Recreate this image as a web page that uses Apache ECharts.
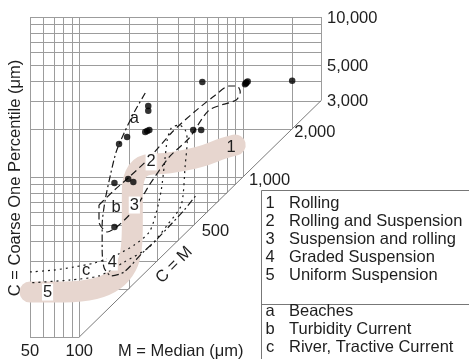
<!DOCTYPE html>
<html><head><meta charset="utf-8">
<script src="https://cdn.jsdelivr.net/npm/echarts@6/dist/echarts.min.js"></script>
<style>html,body{margin:0;padding:0;background:#fff}#c{width:469px;height:359px}</style>
</head><body><div id="c"></div>
<script>
// ---- data ----
const mGridValues = [50,60,70,80,90,100,200,300,400,500,600,700,800,900,1000,2000,3000];
const cGridValues = [100,200,300,400,500,600,700,800,900,1000,2000,3000,4000,5000,6000,7000,8000,9000,10000];
const bottomTickValues = [50,100];
const bottomTickLabels = ['50','100'];
const rightTickValues = [10000,5000,3000];
const rightTickLabels = ['10,000','5,000','3,000'];
const diagTickValues = [2000,1000,500];
const diagTickLabels = ['2,000','1,000','500'];

// sigmoid CM pattern band (M, C)
const bandPath = [[50,191],[81,191],[124,200],[164,227],[194,278],[208,360],[211,501],[211,772],[220,1029],[257,1189],[355,1224],[541,1334],[769,1518],[897,1585]];
// envelope a (beaches) dash-dot
const envelopeA = [[253,3350],[217,2548],[188,1884],[168,1433],[155,1029],[144,718],[138,501],[138,350],[142,270],[157,241],[188,255],[243,335],[295,404],[370,516],[438,622],[519,772]];
// envelope b (turbidity current) dashed
const envelopeB = [[132,668],[164,829],[202,1000],[268,1315],[370,1911],[504,2548],[668,3208],[825,3705],[923,3705],[963,3398],[910,3028],[623,2623],[470,1753],[355,1334],[268,891],[223,649],[175,501],[148,453],[132,523],[132,668]];
// envelope c (river, tractive current) dotted
const envelopeC = [[50,255],[70,262],[93,274],[124,290],[164,321],[217,376],[268,453],[295,596],[317,829],[331,1189],[345,1703],[365,2024],[408,2113],[444,1967],[457,1703],[444,1189],[420,668],[345,501],[268,365],[188,294],[132,241],[87,227],[50,218]];
// samples (M, C)
const samplePoints = [[565,3930],[264,2780],[264,2590],[253,1910],[268,1967],[260,1940],[196,1778],[175,1608],[497,1967],[556,1967],[1030,3800],[1050,3900],[1070,3950],[1045,3850],[2000,4000],[164,917],[199,972],[214,930],[164,487]];
// in-plot labels
const plotLabelTexts = ['a','b','c','1','2','3','4','5'];
const plotLabelPos = [[217,2338],[168,649],[110,262],[848,1540],[275,1242],[217,668],[159,294],[64,191]];
// legend
const zoneIds = ['1','2','3','4','5'];
const zoneNames = ['Rolling','Rolling and Suspension','Suspension and rolling','Graded Suspension','Uniform Suspension'];
const envIds = ['a','b','c'];
const envNames = ['Beaches','Turbidity Current','River, Tractive Current'];

const M_MIN = 50, M_MAX = 3000, C_MIN = 100, C_MAX = 10000;
const FONT = '16.5px "Liberation Sans", Arial, sans-serif';
const TXT = '#1e1e1e';

// grid segments: clipped to region above C = M
const segs = [];
mGridValues.forEach(m => segs.push([m, Math.max(C_MIN, m), m, C_MAX]));
cGridValues.forEach(c => segs.push([M_MIN, c, Math.min(M_MAX, Math.max(c, 100)), c]));
const diagSeg = [[100,100,3000,3000]];

function segRender(color, width){
  return function(params, api){
    const p1 = api.coord([api.value(0), api.value(1)]);
    const p2 = api.coord([api.value(2), api.value(3)]);
    const r = v => Math.round(v) + 0.5;
    const vert = Math.abs(p1[0]-p2[0]) < 0.5, hor = Math.abs(p1[1]-p2[1]) < 0.5;
    return {type:'line', shape:{
      x1: vert ? r(p1[0]) : p1[0], y1: hor ? r(p1[1]) : p1[1],
      x2: vert ? r(p2[0]) : p2[0], y2: hor ? r(p2[1]) : p2[1]},
      style:{stroke:color, lineWidth:width}};
  };
}
function textSeries(values, texts, opt){
  return {type:'custom', coordinateSystem:'cartesian2d', silent:true, clip:false, z: opt.z || 10,
    data: values,
    renderItem(params, api){
      const i = params.dataIndex;
      const p = api.coord([api.value(0), api.value(1)]);
      const dx = Array.isArray(opt.dx) ? opt.dx[i] : (opt.dx||0);
      const dy = Array.isArray(opt.dy) ? opt.dy[i] : (opt.dy||0);
      const st = {text: texts[i], font: FONT, fill: TXT, align: opt.align||'center', verticalAlign:'middle'};
      if (opt.bg && opt.bg[i]) { st.backgroundColor = '#fff'; st.padding = [0,1]; }
      return {type:'text', x: p[0]+dx, y: p[1]+dy, rotation: opt.rotation||0, style: st};
    }};
}
function envSeries(data, dash){
  return {type:'line', data, smooth:0.25, symbol:'none', silent:true, z:4,
    lineStyle:{color:'#1a1a1a', width:1.2, type:dash}};
}

const chart = echarts.init(document.getElementById('c'), null, {renderer:'canvas'});
const graphic = [];
const LX = 261.5, LY = 190.5;
graphic.push({type:'rect', shape:{x:LX, y:LY, width:230, height:200}, style:{fill:'#fff', stroke:'#777', lineWidth:1}, z:1});
graphic.push({type:'line', shape:{x1:LX, y1:304.5, x2:470, y2:304.5}, style:{stroke:'#777', lineWidth:1}, z:2});
zoneIds.forEach((id,i)=>{
  graphic.push({type:'text', x:270, y:203+i*18, style:{text:id, font:FONT, fill:TXT, align:'center', verticalAlign:'middle'}, z:3});
  graphic.push({type:'text', x:289, y:203+i*18, style:{text:zoneNames[i], font:FONT, fill:TXT, align:'left', verticalAlign:'middle'}, z:3});
});
envIds.forEach((id,i)=>{
  graphic.push({type:'text', x:270, y:311+i*18, style:{text:id, font:FONT, fill:TXT, align:'center', verticalAlign:'middle'}, z:3});
  graphic.push({type:'text', x:289, y:311+i*18, style:{text:envNames[i], font:FONT, fill:TXT, align:'left', verticalAlign:'middle'}, z:3});
});
graphic.push({type:'text', x:118, y:351, style:{text:'M = Median (μm)', font:FONT, fill:TXT, align:'left', verticalAlign:'middle'}});
graphic.push({type:'text', x:15, y:178, rotation:Math.PI/2, style:{text:'C = Coarse One Percentile (μm)', font:FONT, fill:TXT, align:'center', verticalAlign:'middle'}});

chart.setOption({
  animation:false,
  grid:{left:30, top:17, width:291, height:320, containLabel:false},
  xAxis:{type:'log', logBase:10, min:M_MIN, max:M_MAX, show:false},
  yAxis:{type:'log', logBase:10, min:C_MIN, max:C_MAX, show:false},
  graphic,
  series:[
    {type:'custom', coordinateSystem:'cartesian2d', silent:true, z:1, data:segs, encode:{x:[0,2], y:[1,3]}, renderItem:segRender('#9c9c9c',1)},
    {type:'custom', coordinateSystem:'cartesian2d', silent:true, z:1, data:diagSeg, encode:{x:[0,2], y:[1,3]}, renderItem:segRender('#7a7a7a',1)},
    {type:'line', data:bandPath, smooth:0.4, symbol:'none', silent:true, z:2,
      lineStyle:{color:'#e7d6cf', width:21, cap:'round', join:'round'}},
    envSeries(envelopeA, [7,3,2,3]),
    envSeries(envelopeB, [7,4]),
    envSeries(envelopeC, [2,4]),
    {type:'scatter', data:samplePoints, symbolSize:6.5, itemStyle:{color:'#000'}, silent:true, z:6},
    textSeries(plotLabelPos, plotLabelTexts, {bg:[false,false,false,false,true,true,true,true], z:8}),
    textSeries(bottomTickValues.map(v=>[v,C_MIN]), bottomTickLabels, {dy:14}),
    textSeries(rightTickValues.map(v=>[M_MAX,v]), rightTickLabels, {dx:6, dy:1, align:'left'}),
    textSeries(diagTickValues.map(v=>[v,v]), diagTickLabels, {dx:[2,6,8], dy:[4,3,6], align:'left'}),
    textSeries([[380,282]], ['C = M'], {rotation:Math.PI/4})
  ]
});
</script></body></html>
